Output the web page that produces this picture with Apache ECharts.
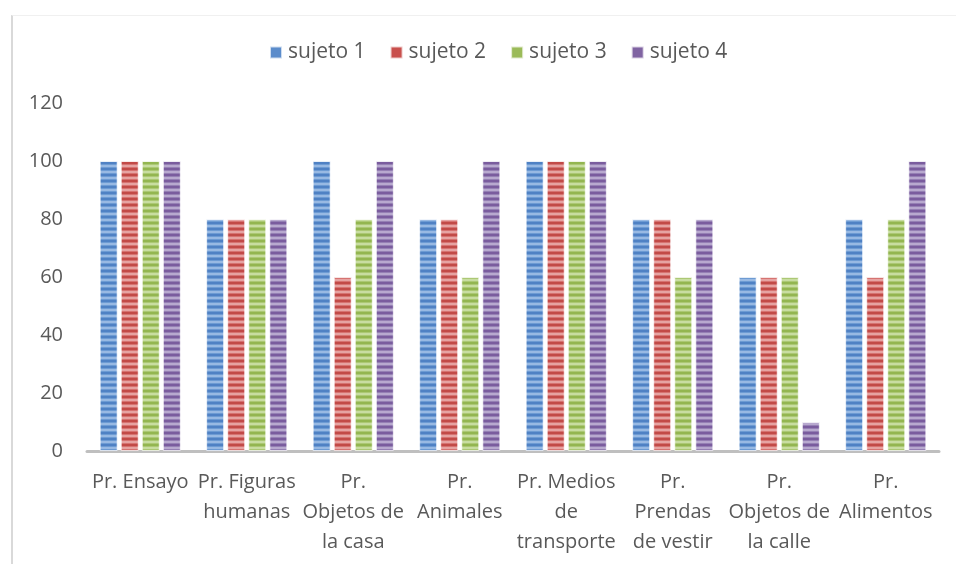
<!DOCTYPE html>
<html>
<head>
<meta charset="utf-8">
<script src="https://cdn.jsdelivr.net/npm/echarts@6/dist/echarts.min.js"></script>
<style>
  html, body { margin: 0; padding: 0; background: #fff; }
  #frame { position: absolute; left: 11px; top: 15px; width: 945px; height: 549px;
           border-left: 2px solid #d9d9d9; border-top: 1px solid #f0f0f0; }
  #chart { width: 956px; height: 564px; position: absolute; left: 0; top: 0; }
</style>
</head>
<body>
<div id="frame"></div>
<div id="chart"></div>
<script>
const categories = [
  'Pr. Ensayo', 'Pr. Figuras\nhumanas', 'Pr.\nObjetos de\nla casa', 'Pr.\nAnimales',
  'Pr. Medios\nde\ntransporte', 'Pr.\nPrendas\nde vestir', 'Pr.\nObjetos de\nla calle', 'Pr.\nAlimentos'
];
const sujeto1 = [100, 80, 100, 80, 100, 80, 60, 80];
const sujeto2 = [100, 80, 60, 80, 100, 80, 60, 60];
const sujeto3 = [100, 80, 80, 60, 100, 60, 60, 80];
const sujeto4 = [100, 80, 100, 100, 100, 80, 10, 100];
const seriesNames = ['sujeto 1', 'sujeto 2', 'sujeto 3', 'sujeto 4'];
const yTicks = [0, 20, 40, 60, 80, 100, 120];

// striped fill like the excel bars
const stripes = (dark, mid, light) => {
  const c = document.createElement('canvas');
  c.width = 4; c.height = 6;
  const ctx = c.getContext('2d');
  const rows = [dark, dark, mid, light, light, mid];
  rows.forEach((col, i) => { ctx.fillStyle = col; ctx.fillRect(0, i, 4, 1); });
  return { image: c, repeat: 'repeat' };
};

const palette = [
  { solid: '#5b8ccb', fill: stripes('#4f81c4', '#6d9bd3', '#98b9e3') },
  { solid: '#c9504d', fill: stripes('#c24a47', '#d67371', '#e6a3a2') },
  { solid: '#9bbb59', fill: stripes('#93b650', '#acc874', '#c8dda1') },
  { solid: '#8064a2', fill: stripes('#7a5c9e', '#9580b4', '#b8a9cf') }
];

const data = [sujeto1, sujeto2, sujeto3, sujeto4];

const chart = echarts.init(document.getElementById('chart'));
chart.setOption({
  animation: false,
  textStyle: { fontFamily: '"Open Sans", sans-serif' },
  legend: {
    top: 37,
    left: 264,
    itemWidth: 12,
    itemHeight: 12,
    itemGap: 24,
    icon: 'rect',
    textStyle: { color: '#595959', fontSize: 21, padding: [0, 0, 0, 1] },
    data: seriesNames.map((n, i) => ({ name: n, itemStyle: { color: palette[i].solid } }))
  },
  grid: { left: 87, right: 17, top: 103, bottom: 113 },
  xAxis: {
    type: 'category',
    data: categories,
    axisLine: { lineStyle: { color: '#bfbfbf', width: 3 } },
    axisTick: { show: false },
    axisLabel: {
      color: '#595959', fontSize: 20, lineHeight: 30, margin: 16, interval: 0
    }
  },
  yAxis: {
    type: 'value',
    min: 0, max: yTicks[yTicks.length - 1], interval: 20,
    axisLine: { show: false },
    axisTick: { show: false },
    splitLine: { show: false },
    axisLabel: { color: '#595959', fontSize: 20, margin: 24 }
  },
  series: seriesNames.map((n, i) => ({
    name: n,
    type: 'bar',
    data: data[i],
    barWidth: 18,
    barGap: '17%',
    itemStyle: { color: palette[i].fill, borderColor: 'rgba(255,255,255,0.7)', borderWidth: 1 }
  }))
});
</script>
</body>
</html>
